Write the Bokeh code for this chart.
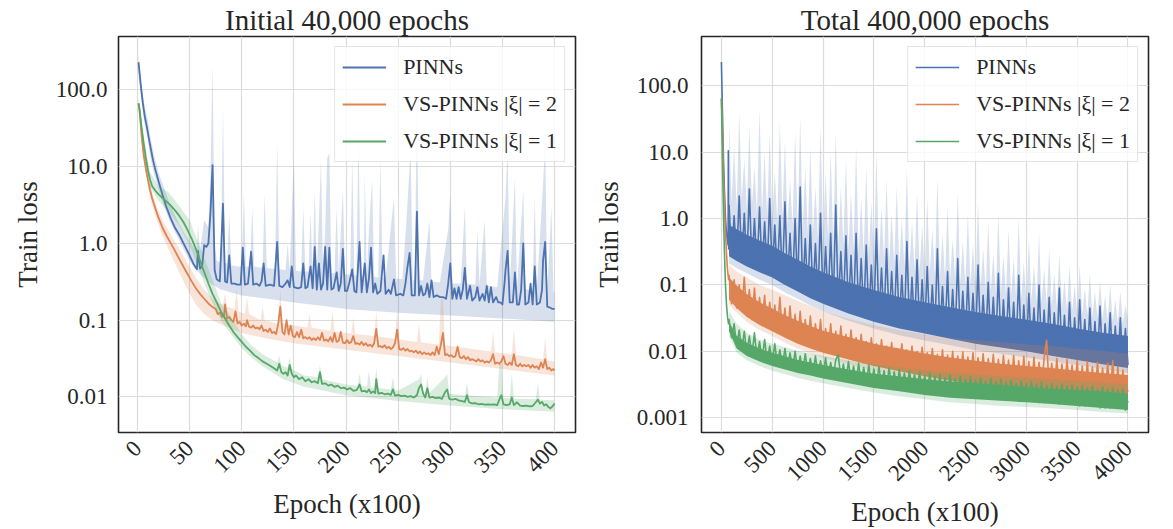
import math
from bokeh.plotting import figure
from bokeh.models import Range1d, FixedTicker
from bokeh.layouts import row
from bokeh.embed import file_html
from bokeh.resources import INLINE

# ---------------- text / ticks ----------------
SERIES = ["PINNs", "VS-PINNs |ξ| = 2", "VS-PINNs |ξ| = 1"]
COLORS = ["#4C72B0", "#DD8452", "#55A868"]
TITLES = ["Initial 40,000 epochs", "Total 400,000 epochs"]
X_LABEL = "Epoch (x100)"
Y_LABEL = "Train loss"
LEFT_XTICKS = [0, 50, 100, 150, 200, 250, 300, 350, 400]
RIGHT_XTICKS = [0, 500, 1000, 1500, 2000, 2500, 3000, 3500, 4000]
LEFT_YTICKS = [0.01, 0.1, 1, 10, 100]
LEFT_YTICK_LABELS = ["0.01", "0.1", "1.0", "10.0", "100.0"]
RIGHT_YTICKS = [0.001, 0.01, 0.1, 1, 10, 100]
RIGHT_YTICK_LABELS = ["0.001", "0.01", "0.1", "1.0", "10.0", "100.0"]

# ---------------- left panel data (epoch x100, loss) ----------------
L_PINN = [(1,230),(3,120),(5,70),(7,45),(9,33),(11,23),(13,16.5),(15,12),(17,9.3),(20,6.6),(24,4.3),(28,2.9),
          (32,2.1),(36,1.6),(40,1.3),(45,0.95),(50,0.7),(54,0.53),(57,0.46),(58,0.8),(60,0.47),(62,0.5),(64,0.95),
          (66,0.9),(68,1.0),(70,2.5),(72,10.5),(74,0.45),(76,0.34),(79,0.32),(82,3.3),(84,0.32),(86,0.31),(88,0.7),
          (90,0.3),(93,0.3),(96,0.29),(99,0.29),(101,0.88),(103,0.29),(106,0.3),(109,0.78),(111,0.29),(114,0.3),
          (117,0.28),(119,0.32),(121,0.55),(123,0.28),(127,0.29),(131,0.28),(134,1.05),(136,0.28),(139,0.27),
          (142,0.3),(144,0.33),(146,0.27),(148,0.5),(150,0.27),(154,0.26),(157,0.27),(159,0.55),(161,0.26),
          (163,0.27),(166,0.5),(168,0.26),(170,0.9),(172,0.25),(174,0.55),(176,0.25),(178,0.3),(180,0.9),(182,0.25),
          (184,0.88),(186,0.25),(188,0.26),(191,0.42),(193,0.24),(195,0.3),(197,0.85),(199,0.24),(201,0.24),
          (203,0.3),(206,0.46),(208,0.24),(210,0.23),(213,1.05),(215,0.23),(218,0.55),(220,0.23),(222,0.35),
          (224,0.88),(226,0.23),(228,0.3),(230,0.22),(233,0.24),(236,0.7),(238,0.22),(241,0.25),(243,0.22),
          (246,0.34),(248,0.21),(252,0.22),(255,0.21),(257,0.3),(259,0.5),(261,0.75),(263,0.21),(266,0.21),
          (268,2.6),(270,0.21),(272,0.28),(274,0.21),(276,0.22),(278,0.3),(280,0.2),(282,0.33),(284,0.2),(287,0.21),
          (290,0.2),(293,0.2),(296,0.19),(298,0.3),(300,0.55),(302,0.19),(304,0.26),(306,0.19),(308,0.27),
          (310,0.19),(312,0.25),(314,0.48),(316,0.19),(319,0.28),(321,0.18),(324,0.2),(326,0.27),(328,0.18),
          (331,0.22),(333,0.18),(335,0.28),(337,0.17),(339,0.27),(341,0.17),(344,0.2),(346,0.17),(348,0.17),
          (350,0.16),(352,0.3),(353,0.45),(355,0.8),(357,0.17),(360,0.17),(362,0.42),(364,0.16),(366,0.16),
          (368,0.25),(370,1.0),(372,0.16),(375,0.17),(377,0.3),(379,0.16),(381,0.5),(383,0.16),(386,0.17),
          (388,0.25),(389,0.6),(391,1.05),(393,0.15),(396,0.145),(398,0.14),(400,0.14)]
L_PINN_HI = [(1,290),(3,160),(5,90),(7,60),(10,40),(13,22),(16,14),(20,8.5),(25,5.5),(30,3.6),(35,2.5),(40,1.8),
             (45,1.35),(50,1.05),(55,0.85),(57,0.8),(58,1.7),(60,0.8),(64,2.0),(66,1.8),(68,1.6),(70,8),(72,220),
             (74,1.0),(76,0.6),(80,0.55),(82,62),(84,0.55),(86,0.55),(88,2.5),(90,0.52),(96,0.5),(100,0.5),(102,4.6),
             (104,0.5),(108,0.5),(110,2.9),(112,0.5),(118,0.48),(120,0.5),(122,4.4),(124,0.48),(132,0.46),(134,20),
             (136,0.46),(142,0.45),(144,1.0),(146,0.45),(148,2.5),(150,13.6),(152,0.44),(157,0.43),(159,3.0),
             (161,0.43),(164,0.43),(166,2.5),(168,0.42),(170,5),(172,0.42),(174,2),(176,12.5),(178,0.42),(180,1.5),
             (182,13),(184,15),(186,0.41),(189,0.41),(191,3),(193,0.4),(197,5),(199,0.4),(204,0.39),(206,13),
             (208,0.39),(210,0.38),(212,26),(214,0.38),(217,0.38),(218,8.4),(220,0.37),(222,1.5),(225,6.9),(227,0.37),
             (231,0.36),(233,13),(235,0.36),(238,0.35),(246,4),(248,0.35),(254,0.34),(258,2),(260,6),(262,17),
             (264,0.33),(266,0.33),(268,82),(270,0.33),(274,0.33),(280,2),(282,0.32),(290,0.31),(298,1.5),(300,4.5),
             (302,0.3),(310,0.3),(314,3),(316,0.3),(324,0.29),(326,1.5),(328,0.29),(333,2),(335,0.28),(345,0.27),
             (353,4),(355,17),(357,0.26),(362,7),(364,0.26),(370,5),(372,0.25),(379,0.25),(381,4),(383,0.25),(389,6),
             (391,22),(393,0.24),(397,3),(399,0.23),(400,0.23)]
L_PINN_LO = [(1,180),(3,95),(5,55),(7,35),(10,22),(13,12),(16,8),(20,5.2),(25,3.1),(30,2.1),(35,1.5),(40,1.1),
             (45,0.8),(50,0.6),(55,0.47),(60,0.4),(70,0.3),(80,0.25),(100,0.21),(125,0.19),(150,0.17),(175,0.155),
             (200,0.14),(250,0.125),(300,0.115),(350,0.105),(400,0.095)]

L_VS2 = [(1,67),(2,55),(4,25),(6,14),(8,9.5),(10,6.8),(12,5),(14,3.9),(17,2.9),(20,2.2),(24,1.6),(28,1.25),(32,1.0),
         (36,0.8),(40,0.63),(44,0.5),(48,0.4),(52,0.32),(56,0.26),(60,0.22),(64,0.19),(68,0.165),(72,0.148),(75,0.14),
         (77,0.12),(79,0.125),(81,0.11),(83,0.115),(84,0.16),(86,0.105),(88,0.11),(90,0.1),(92,0.095),(94,0.13),
         (96,0.09),(98,0.095),(100,0.085),(102,0.09),(104,0.083),(105,0.1),(107,0.082),(109,0.08),(111,0.085),
         (113,0.078),(115,0.08),(117,0.076),(119,0.085),(121,0.072),(123,0.075),(125,0.07),(127,0.078),(129,0.068),
         (131,0.07),(133,0.066),(135,0.09),(137,0.15),(139,0.07),(141,0.065),(143,0.1),(145,0.065),(147,0.085),
         (149,0.062),(151,0.06),(153,0.07),(155,0.06),(157,0.075),(159,0.058),(161,0.06),(163,0.057),(165,0.06),
         (167,0.055),(169,0.058),(171,0.055),(173,0.06),(175,0.055),(177,0.068),(179,0.054),(181,0.056),(183,0.053),
         (185,0.06),(187,0.052),(189,0.068),(191,0.052),(193,0.054),(195,0.07),(197,0.051),(199,0.05),(201,0.055),
         (203,0.05),(205,0.052),(207,0.062),(209,0.049),(211,0.05),(213,0.048),(215,0.052),(217,0.047),(219,0.05),
         (221,0.046),(223,0.048),(225,0.045),(227,0.05),(229,0.077),(231,0.045),(233,0.046),(235,0.044),(237,0.047),
         (239,0.043),(241,0.045),(243,0.042),(245,0.044),(247,0.05),(249,0.075),(251,0.042),(253,0.041),(255,0.043),
         (257,0.04),(259,0.042),(261,0.039),(263,0.04),(265,0.038),(267,0.04),(269,0.037),(271,0.039),(273,0.036),
         (275,0.038),(277,0.036),(279,0.037),(281,0.035),(283,0.038),(285,0.035),(287,0.045),(289,0.036),
         (291,0.048),(293,0.068),(295,0.035),(297,0.036),(299,0.034),(301,0.035),(303,0.033),(305,0.034),
         (307,0.045),(309,0.033),(311,0.032),(313,0.034),(315,0.031),(317,0.033),(319,0.03),(321,0.031),(323,0.03),
         (325,0.029),(327,0.031),(329,0.029),(331,0.03),(333,0.028),(335,0.029),(337,0.028),(339,0.03),(341,0.036),
         (343,0.027),(345,0.028),(347,0.027),(349,0.029),(351,0.034),(353,0.027),(355,0.026),(357,0.028),
         (359,0.026),(361,0.036),(363,0.026),(365,0.025),(367,0.027),(369,0.025),(371,0.026),(373,0.025),
         (375,0.026),(377,0.024),(379,0.026),(381,0.024),(383,0.025),(385,0.023),(387,0.028),(389,0.024),
         (391,0.031),(393,0.023),(395,0.024),(397,0.022),(399,0.023),(400,0.022)]
L_VS2_HI = [(1,75),(4,30),(8,11.5),(12,6),(17,3.4),(24,2.0),(32,1.3),(40,0.85),(48,0.55),(56,0.36),(64,0.25),
            (72,0.19),(80,0.16),(82,0.16),(84,0.22),(86,0.15),(93,0.14),(95,0.25),(97,0.13),(103,0.12),(105,0.2),
            (107,0.12),(118,0.1),(120,0.15),(122,0.1),(135,0.09),(137,0.25),(139,0.09),(163,0.08),(165,0.12),
            (167,0.08),(185,0.072),(187,0.13),(189,0.071),(205,0.067),(207,0.11),(209,0.066),(227,0.062),(229,0.13),
            (231,0.061),(247,0.057),(249,0.14),(251,0.056),(268,0.052),(270,0.09),(272,0.051),(289,0.048),(291,0.18),
            (293,0.2),(295,0.047),(339,0.039),(341,0.07),(343,0.038),(359,0.036),(361,0.075),(363,0.035),(389,0.031),
            (391,0.06),(393,0.03),(400,0.029)]
L_VS2_LO = [(1,60),(4,21),(8,7.8),(12,4.0),(17,2.3),(24,1.25),(32,0.72),(40,0.42),(48,0.25),(56,0.16),(64,0.12),
            (72,0.1),(80,0.088),(100,0.068),(125,0.057),(150,0.05),(200,0.041),(250,0.034),(300,0.028),(350,0.023),
            (400,0.019)]

L_VS1 = [(1,67),(2,55),(4,32),(6,20),(8,13),(10,9),(12,6.8),(14,5.6),(17,4.9),(20,4.4),(24,3.9),(28,3.5),(32,3.1),
         (36,2.7),(40,2.3),(44,1.9),(48,1.5),(52,1.15),(56,0.85),(60,0.6),(64,0.42),(68,0.3),(72,0.22),(76,0.17),
         (80,0.13),(84,0.105),(88,0.085),(92,0.07),(96,0.06),(100,0.052),(104,0.045),(108,0.04),(112,0.035),
         (116,0.032),(120,0.029),(124,0.027),(128,0.025),(132,0.023),(134,0.022),(136,0.027),(138,0.021),(140,0.02),
         (142,0.021),(144,0.019),(146,0.026),(148,0.02),(150,0.018),(152,0.019),(155,0.017),(158,0.018),(161,0.016),
         (164,0.017),(167,0.0155),(170,0.016),(173,0.015),(175,0.021),(177,0.0148),(180,0.015),(183,0.014),
         (186,0.0145),(189,0.0135),(192,0.014),(195,0.013),(198,0.0132),(201,0.0125),(204,0.013),(207,0.012),
         (210,0.0122),(212,0.0135),(213,0.0145),(215,0.0118),(218,0.012),(220,0.0115),(222,0.0125),(224,0.0112),
         (226,0.0118),(228,0.0112),(229,0.017),(231,0.011),(234,0.0113),(237,0.0108),(240,0.011),(243,0.0106),
         (245,0.0125),(247,0.0104),(250,0.0106),(253,0.0102),(256,0.0104),(259,0.01),(262,0.0102),(265,0.0098),
         (268,0.0105),(270,0.013),(272,0.0145),(274,0.011),(276,0.0098),(278,0.013),(280,0.0098),(283,0.01),
         (286,0.0096),(289,0.0098),(292,0.0094),(295,0.0115),(297,0.0125),(299,0.0094),(302,0.0092),(305,0.0094),
         (308,0.009),(311,0.0088),(314,0.0086),(316,0.0105),(318,0.0085),(321,0.0082),(324,0.0083),(327,0.008),
         (330,0.0081),(333,0.0079),(336,0.008),(339,0.0079),(342,0.008),(345,0.0078),(347,0.0092),(349,0.0105),
         (351,0.008),(354,0.0078),(357,0.008),(359,0.0098),(361,0.0078),(364,0.0085),(367,0.0077),(370,0.0076),
         (373,0.0077),(376,0.0075),(379,0.0076),(382,0.0085),(384,0.0092),(386,0.0082),(388,0.0086),(390,0.0077),
         (392,0.008),(394,0.0074),(396,0.0071),(398,0.0075),(400,0.0082)]
L_VS1_HI = [(1,75),(6,24),(12,8.5),(20,5.6),(30,4.6),(40,3.1),(50,2.0),(60,0.9),(70,0.4),(80,0.17),(90,0.11),
            (100,0.065),(110,0.046),(120,0.036),(134,0.028),(136,0.034),(138,0.026),(140,0.025),(144,0.024),
            (146,0.033),(148,0.023),(160,0.019),(173,0.018),(175,0.026),(177,0.017),(200,0.0145),(211,0.014),
            (213,0.02),(215,0.014),(220,0.0135),(222,0.022),(224,0.0133),(227,0.013),(229,0.024),(231,0.013),
            (243,0.0125),(245,0.018),(247,0.0123),(250,0.012),(270,0.017),(272,0.02),(274,0.0115),(276,0.0115),
            (278,0.018),(280,0.0112),(295,0.018),(297,0.02),(299,0.011),(314,0.0105),(316,0.015),(318,0.0104),
            (345,0.0098),(347,0.026),(349,0.028),(351,0.0097),(357,0.0096),(359,0.02),(361,0.0095),(382,0.0093),
            (384,0.015),(386,0.0092),(400,0.009)]
L_VS1_LO = [(1,60),(6,17),(12,5.5),(20,3.6),(30,2.6),(40,1.7),(50,0.95),(60,0.42),(70,0.19),(80,0.1),(90,0.065),
            (100,0.043),(110,0.032),(120,0.025),(140,0.017),(160,0.0135),(200,0.0105),(250,0.0088),(300,0.0077),
            (350,0.0069),(400,0.0064)]

# ---------------- right panel data ----------------
R_PINN_HEAD = [(0,230),(10,40),(20,8),(30,2.5),(40,1.0),(50,0.6),(60,0.45),(66,0.4),(68,10.5),(71,0.35)]
R_VS2_HEAD = [(0,65),(10,20),(20,5),(30,1.5),(40,0.6),(50,0.3),(60,0.17),(70,0.12)]
R_VS1_HEAD = [(0,65),(10,8),(20,1.2),(30,0.3),(40,0.1),(50,0.05),(60,0.033),(70,0.026)]

# noisy curves, one value every 25 (x100) from 75 to 4000
R_X_START, R_X_STEP = 75, 25
R_PINN = [1.6,0.27,1.1,0.24,2.2,0.22,1.2,0.2,2.8,0.19,1.0,0.175,1.5,0.165,0.9,0.155,2.0,0.14,0.8,0.13,1.1,0.115,
          1.8,0.105,0.6,0.095,1.0,0.087,3.0,0.08,0.5,0.072,0.8,0.067,0.42,0.062,1.2,0.057,
          0.38,0.054,0.6,0.05,1.6,0.047,0.32,0.044,0.55,0.041,0.28,0.039,0.6,0.037,0.25,0.035,0.4,0.033,0.2,0.031,
          0.7,0.03,0.18,0.029,0.35,0.028,0.16,0.026,0.28,0.025,0.14,0.024,0.45,0.023,0.13,0.022,0.24,0.021,0.12,0.0205,
          0.19,0.02,0.1,0.019,0.35,0.0185,0.095,0.018,0.16,0.0172,0.085,0.0167,0.25,0.0162,0.08,0.0155,0.13,0.015,0.075,0.0145,
          0.2,0.014,0.07,0.0135,0.11,0.013,0.065,0.0126,0.15,0.0122,0.06,0.0118,0.09,0.0114,0.055,0.011,0.14,0.0107,0.05,0.0104,
          0.075,0.01,0.045,0.0097,0.1,0.0094,0.042,0.0091,0.065,0.0089,0.038,0.0086,0.09,0.0083,0.035,0.0081,0.055,0.0078,0.032,0.0076,
          0.06,0.0074,0.03,0.0072,0.045,0.007,0.028,0.0068,0.048,0.0066,0.026,0.0064,0.038,0.0062,0.024,0.006,0.032,0.0059,0.022,0.0062]
R_PINN_HI = [30,1.8,12,1.5,40,2.0,8,1.4,25,1.6,6,1.2,45,1.3,10,1.1,20,1.0,5,0.9,30,1.0,15,0.8,4,0.8,20,0.7,35,0.7,6,0.6,
             12,0.6,3,0.5,25,0.5,
             5,0.5,10,0.45,20,0.4,3,0.4,8,0.35,2.5,0.35,12,0.3,2,0.3,6,0.28,1.8,0.27,
             10,0.25,1.5,0.24,4,0.22,1.2,0.21,3,0.2,1.0,0.19,6,0.18,0.9,0.17,2.5,0.16,0.8,0.15,
             2,0.15,0.7,0.14,4,0.13,0.6,0.13,1.5,0.12,0.5,0.12,2.5,0.11,0.45,0.1,1.2,0.1,0.4,0.095,
             1.8,0.09,0.35,0.085,0.9,0.08,0.3,0.078,1.2,0.075,0.28,0.07,0.7,0.068,0.25,0.065,1.0,0.062,0.22,0.06,
             0.5,0.058,0.2,0.055,0.6,0.053,0.18,0.05,0.35,0.048,0.15,0.046,0.3,0.044,0.12,0.042,0.2,0.04,0.1,0.038,
             0.2,0.036,0.09,0.035,0.15,0.033,0.08,0.032,0.12,0.03,0.07,0.029,0.1,0.028,0.06,0.027,0.08,0.026,0.05,0.03]
R_VS2 = [0.14,0.052,0.12,0.045,0.1,0.04,0.13,0.034,0.085,0.03,0.09,0.028,0.065,0.025,0.07,0.023,0.055,0.021,0.05,0.019,
         0.065,0.018,0.045,0.016,0.048,0.015,0.036,0.014,0.04,0.013,0.03,0.012,0.034,0.011,0.026,0.0105,0.03,0.01,
         0.022,0.0095,0.026,0.009,0.02,0.0086,0.024,0.0082,0.018,0.0078,0.021,0.0074,0.016,0.007,0.018,0.0067,0.014,0.0064,0.016,0.0062,
         0.013,0.006,0.015,0.0058,0.012,0.0056,0.0135,0.0054,0.011,0.0052,0.013,0.005,0.0105,0.0048,0.012,0.0046,0.01,0.0045,0.0115,0.0044,
         0.0095,0.0042,0.011,0.0041,0.009,0.004,0.0105,0.0038,0.0088,0.0037,0.01,0.0036,0.0085,0.0035,0.0098,0.0034,0.0082,0.0033,0.0095,0.0033,
         0.008,0.0032,0.0092,0.0031,0.0078,0.0031,0.009,0.003,0.0076,0.0029,0.0088,0.0029,0.0074,0.0028,0.0086,0.0028,0.0072,0.0027,0.0084,0.0027,
         0.007,0.0027,0.0082,0.0026,0.0068,0.0026,0.008,0.0147,0.0026,0.0066,0.0025,0.0078,0.0025,0.0064,0.0024,0.0075,0.0024,0.0062,0.0023,0.0072,
         0.0023,0.006,0.0022,0.007,0.0022,0.0058,0.0021,0.0068,0.0021,0.0056,0.0021,0.0066,0.002,0.0072,0.002,0.0058,0.002,0.0052,0.002,0.0026]
R_VS1 = [0.03,0.016,0.026,0.012,0.021,0.0105,0.02,0.0092,0.017,0.0085,0.019,0.008,0.014,0.0075,0.015,0.007,0.012,0.0066,0.013,0.0063,
         0.0105,0.006,0.011,0.0057,0.0095,0.0054,0.01,0.0052,0.0085,0.005,0.0092,0.0048,0.0078,0.0046,0.0085,0.0044,0.0072,0.0043,
         0.008,0.0041,0.0068,0.004,0.0074,0.0089,0.0038,0.0064,0.0037,0.007,0.0036,0.006,0.0035,0.0066,0.0034,0.0057,0.0033,0.0062,0.0032,0.0054,
         0.0031,0.0059,0.003,0.0051,0.003,0.0056,0.0029,0.0049,0.0028,0.0053,0.0028,0.0047,0.0027,0.0051,0.0026,0.0045,0.0026,0.0049,0.0025,0.0043,
         0.0025,0.0047,0.0024,0.0042,0.0024,0.0045,0.0023,0.004,0.0023,0.0044,0.0022,0.0039,0.0022,0.0042,0.0022,0.0038,0.0021,0.0041,0.0021,0.0037,
         0.0021,0.004,0.002,0.0036,0.002,0.0039,0.002,0.0035,0.0019,0.0038,0.0019,0.0034,0.0019,0.0037,0.0019,0.0033,0.0018,0.0036,0.0018,0.0033,
         0.0018,0.0035,0.0018,0.0032,0.0017,0.0034,0.0017,0.0031,0.0017,0.0033,0.0017,0.003,0.0016,0.0032,0.0016,0.003,0.0016,0.0031,0.0016,0.0029,
         0.0015,0.003,0.0015,0.0028,0.0015,0.003,0.0015,0.0027,0.0014,0.0029,0.0014,0.0027,0.0014,0.0028,0.0014,0.0026,0.0014,0.0027,0.0013,0.0018]

# smooth envelopes read at these epochs (x100)
ENV_X = [75,150,250,375,500,625,750,875,1000,1250,1500,1750,2000,2250,2500,2750,3000,3250,3500,3750,4000]
R_PINN_CORE_LO = [0.27,0.23,0.19,0.155,0.13,0.1,0.08,0.063,0.052,0.037,0.028,0.022,0.0185,0.0155,0.013,0.0114,0.01,0.0086,0.0074,0.0064,0.0056]
R_PINN_CORE_HI = [0.8,0.69,0.57,0.47,0.39,0.3,0.24,0.19,0.156,0.11,0.084,0.066,0.055,0.046,0.039,0.034,0.03,0.026,0.022,0.019,0.017]
R_PINN_LO = [0.21,0.18,0.15,0.12,0.1,0.077,0.062,0.049,0.04,0.029,0.022,0.0175,0.0146,0.0123,0.0104,0.0092,0.0081,0.0071,0.0062,0.0054,0.0047]
R_VS2_CORE_LO = [0.06,0.045,0.033,0.025,0.02,0.016,0.013,0.011,0.0095,0.0075,0.006,0.005,0.0042,0.0036,0.0032,0.0029,0.0027,0.0025,0.0023,0.0021,0.002]
R_VS2_CORE_HI = [0.13,0.098,0.073,0.055,0.044,0.035,0.029,0.024,0.0205,0.0165,0.013,0.011,0.0093,0.0081,0.0072,0.0065,0.006,0.0056,0.0051,0.0047,0.0044]
R_VS2_LO = [0.05,0.038,0.028,0.021,0.017,0.0135,0.011,0.0093,0.008,0.0064,0.0051,0.0043,0.0036,0.0031,0.0027,0.0025,0.0023,0.0021,0.002,0.0018,0.0017]
R_VS2_HI = [0.2,0.16,0.13,0.1,0.085,0.07,0.058,0.048,0.04,0.031,0.025,0.021,0.018,0.016,0.0148,0.0138,0.0128,0.012,0.011,0.0102,0.0092]
R_VS1_CORE_LO = [0.02,0.011,0.0085,0.007,0.006,0.0053,0.0047,0.0043,0.0039,0.0033,0.0028,0.0025,0.0022,0.002,0.0019,0.0018,0.0017,0.0016,0.0015,0.0014,0.0013]
R_VS1_CORE_HI = [0.028,0.017,0.0135,0.011,0.0095,0.0084,0.0074,0.0068,0.0062,0.0053,0.0046,0.0042,0.0038,0.0035,0.0033,0.0031,0.0029,0.0027,0.0026,0.0025,0.0023]
R_VS1_LO = [0.017,0.0095,0.0073,0.006,0.0051,0.0045,0.004,0.0036,0.0033,0.0028,0.0024,0.0021,0.0019,0.0017,0.0016,0.0015,0.00145,0.00138,0.0013,0.00122,0.00115]
R_VS1_HI = [0.04,0.026,0.019,0.015,0.013,0.0115,0.0102,0.0093,0.0085,0.0073,0.0064,0.0057,0.0052,0.0048,0.0045,0.0042,0.004,0.0038,0.0036,0.0034,0.0032]

# ---------------- styling ----------------
SERIF = "Liberation Serif"
TXT = "#262626"
GRID = "#dcdcdc"


def unzip(pairs):
    return [a for a, _ in pairs], [b for _, b in pairs]


def r_x(values):
    return [R_X_START + R_X_STEP * i for i in range(len(values))]


def make_fig(width, xr, yr, xticks, yticks, ylabels, title, border_left, border_right, tick_standoff):
    p = figure(width=width, height=529, x_range=Range1d(*xr), y_range=Range1d(*yr),
               y_axis_type="log", output_backend="svg", toolbar_location=None,
               min_border_left=border_left, min_border_right=border_right,
               min_border_top=36, min_border_bottom=93,
               background_fill_color="white", border_fill_color="white")
    p.title.text = title
    p.title.text_font = SERIF
    p.title.text_font_size = "29px"
    p.title.text_font_style = "normal"
    p.title.text_color = TXT
    p.title.align = "center"
    p.title.standoff = 2
    p.xaxis.ticker = FixedTicker(ticks=xticks)
    p.yaxis.ticker = FixedTicker(ticks=yticks)
    p.yaxis.major_label_overrides = dict(zip(yticks, ylabels))
    p.xgrid.ticker = FixedTicker(ticks=xticks)
    p.ygrid.ticker = FixedTicker(ticks=yticks)
    for g in (p.xgrid, p.ygrid):
        g.grid_line_color = GRID
        g.grid_line_width = 1.2
    p.outline_line_color = TXT
    p.outline_line_width = 1.6
    p.outline_line_alpha = 1
    for ax in (p.xaxis, p.yaxis):
        ax.axis_line_color = None
        ax.major_tick_line_color = None
        ax.minor_tick_line_color = None
        ax.major_tick_out = 0
        ax.major_tick_in = 0
        ax.minor_tick_out = 0
        ax.minor_tick_in = 0
        ax.major_label_text_font = SERIF
        ax.major_label_text_font_size = "23px"
        ax.major_label_text_color = TXT
        ax.axis_label_text_font = SERIF
        ax.axis_label_text_font_size = "27px"
        ax.axis_label_text_font_style = "normal"
        ax.axis_label_text_color = TXT
    p.xaxis.axis_label = X_LABEL
    p.yaxis.axis_label = Y_LABEL
    p.xaxis.major_label_orientation = math.pi / 4
    p.xaxis.major_label_standoff = 12
    p.xaxis.axis_label_standoff = 6
    p.yaxis.major_label_standoff = tick_standoff
    p.yaxis.axis_label_standoff = 10
    return p


def style_legend(p):
    lg = p.legend[0]
    lg.location = "top_right"
    lg.label_text_font = SERIF
    lg.label_text_font_size = "22px"
    lg.label_text_color = TXT
    lg.border_line_color = "#cccccc"
    lg.border_line_width = 1
    lg.background_fill_alpha = 0.8
    lg.glyph_width = 44
    lg.glyph_height = 22
    lg.label_height = 22
    lg.label_standoff = 17
    lg.spacing = 11
    lg.padding = 7
    lg.margin = 10


def patch_band(p, hx, hy, lx, ly, color, alpha):
    p.patch(list(hx) + list(lx)[::-1], list(hy) + list(ly)[::-1],
            fill_color=color, fill_alpha=alpha, line_color=None)


# ---------------- left figure ----------------
p1 = make_fig(590, (-18.2, 420.1), (0.00343, 498), LEFT_XTICKS, LEFT_YTICKS, LEFT_YTICK_LABELS,
              TITLES[0], 118, 15, 11)
left_sets = [(L_PINN, L_PINN_HI, L_PINN_LO), (L_VS2, L_VS2_HI, L_VS2_LO), (L_VS1, L_VS1_HI, L_VS1_LO)]
for (line, hi, lo), name, col in zip(left_sets, SERIES, COLORS):
    hx, hy = unzip(hi)
    lx, ly = unzip(lo)
    patch_band(p1, hx, hy, lx, ly, col, 0.22)
    x, y = unzip(line)
    p1.line(x, y, line_color=col, line_width=1.8, line_join="round", legend_label=name)
style_legend(p1)

# ---------------- right figure ----------------
p2 = make_fig(583, (-196, 4202), (0.000597, 557), RIGHT_XTICKS, RIGHT_YTICKS, RIGHT_YTICK_LABELS,
              TITLES[1], 102, 25, 13)
for arr in (R_PINN, R_PINN_HI, R_VS2, R_VS1):
    if len(arr) != 158:
        raise ValueError("length %d" % len(arr))

right_sets = [
    (R_PINN_HEAD, R_PINN, r_x(R_PINN_HI), R_PINN_HI, ENV_X, R_PINN_LO, R_PINN_CORE_LO, R_PINN_CORE_HI, 0.22),
    (R_VS2_HEAD, R_VS2, ENV_X, R_VS2_HI, ENV_X, R_VS2_LO, R_VS2_CORE_LO, R_VS2_CORE_HI, 0.2),
    (R_VS1_HEAD, R_VS1, ENV_X, R_VS1_HI, ENV_X, R_VS1_LO, R_VS1_CORE_LO, R_VS1_CORE_HI, 0.22),
]
for (head, vals, hx, hy, lx, ly, clo, chi, alpha), name, col in zip(right_sets, SERIES, COLORS):
    patch_band(p2, hx, hy, lx, ly, col, alpha)
    p2.varea(x=ENV_X, y1=clo, y2=chi, fill_color=col, fill_alpha=1.0)
    hxh, hyh = unzip(head)
    x = hxh + r_x(vals)
    y = hyh + list(vals)
    p2.line(x, y, line_color=col, line_width=1.6, line_join="round", legend_label=name)
style_legend(p2)

layout = row(p1, p2)
open("out.html", "w").write(file_html(layout, INLINE))
